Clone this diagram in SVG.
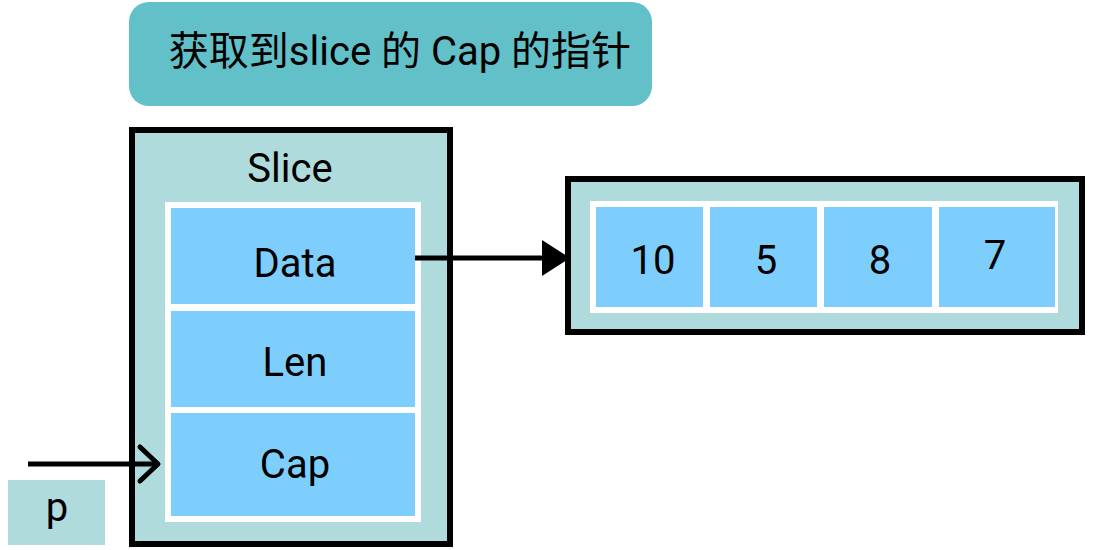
<svg xmlns="http://www.w3.org/2000/svg" width="1094" height="550" viewBox="0 0 1094 550">
<style>
text{font-family:Roboto,"Noto Sans CJK SC",sans-serif;fill:#000;text-anchor:middle}
.lbl{font-size:40px}
.cell{fill:#7ECEFD}
.frame{fill:#fff}
.box{fill:#B0DBDC;stroke:#000;stroke-width:6}
.conn{stroke:#000;stroke-width:5;fill:none}
</style>
<defs>
<marker id="tri" markerUnits="userSpaceOnUse" markerWidth="30" markerHeight="36" refX="28" refY="18" orient="auto" viewBox="0 0 30 36">
<path d="M0,0 L28,18 L0,36 Z" fill="#000"/>
</marker>
</defs>
<rect width="1094" height="550" fill="#fff"/>
<g id="title">
<rect x="129" y="2" width="523" height="104" rx="20" fill="#62C0C8"/>
<text x="400" y="65" style="font-size:40px">获取到slice 的 Cap 的指针</text>
</g>
<g id="slice">
<rect class="box" x="132" y="130" width="318" height="414"/>
<text class="lbl" x="290" y="182">Slice</text>
<rect class="frame" x="165" y="202" width="256" height="320"/>
</g>
<g id="data">
<rect class="cell" x="171" y="208" width="244" height="96"/>
<text class="lbl" x="295" y="277">Data</text>
</g>
<g id="len">
<rect class="cell" x="171" y="311" width="244" height="96"/>
<text class="lbl" x="295" y="376">Len</text>
</g>
<g id="cap">
<rect class="cell" x="171" y="413" width="244" height="103"/>
<text class="lbl" x="295" y="478">Cap</text>
</g>
<g id="array">
<rect class="box" x="568" y="179" width="514" height="153"/>
<rect class="frame" x="590" y="201" width="468" height="112"/>
<rect class="cell" x="596" y="207" width="107" height="100"/>
<rect class="cell" x="710" y="207" width="107" height="100"/>
<rect class="cell" x="824" y="207" width="108" height="100"/>
<rect class="cell" x="939" y="207" width="116" height="100"/>
<text class="lbl" x="653" y="274">10</text>
<text class="lbl" x="766" y="274">5</text>
<text class="lbl" x="880" y="274">8</text>
<text class="lbl" x="995" y="269">7</text>
</g>
<g id="p">
<rect x="8" y="480" width="97" height="65" fill="#B0DBDC"/>
<text x="57" y="521" style="font-size:40px">p</text>
</g>
<g id="connectors">
<line class="conn" x1="415" y1="258" x2="570" y2="258" marker-end="url(#tri)"/>
<line class="conn" x1="28" y1="464" x2="158" y2="464"/>
<polyline class="conn" points="140,447 158,464 140,481" stroke-linecap="round" stroke-linejoin="round"/>
</g>
</svg>
